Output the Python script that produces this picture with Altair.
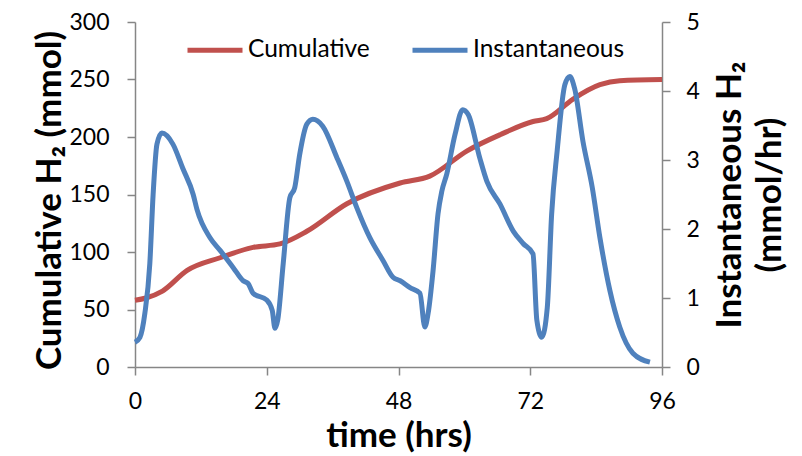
import altair as alt
import pandas as pd

# Cumulative H2 (mmol) vs time (hrs)
cum_x = [0, 2, 5, 9.5, 15.5, 21.5, 26.4, 31.3, 38.6, 48.3, 53.7, 60.5, 66.5, 72.5, 75, 79.8, 84.7, 88.3, 96]
cum_y = [58, 60, 66, 84, 95, 104, 107, 118, 142, 160, 166, 188, 202, 213.5, 216, 233, 245.5, 249, 250]

# Instantaneous H2 (mmol/hr) vs time (hrs)
inst_x = [0, 0.9, 1.8, 2.7, 3.3, 4.0, 4.9, 6.9, 8.7, 10.6, 11.3, 13.7, 15.5, 17.9, 19.7, 20.6, 21.5,
          24.0, 25.0, 25.5, 26.0, 27.0, 28.2, 29.1, 30.0, 31.3, 32.4, 34.2, 36.8, 38.6, 40.4, 42.8,
          45.2, 47.0, 48.3, 50.1, 51.9, 52.8, 53.4, 54.3, 55.2, 55.9, 56.8, 58.3, 59.7, 60.7, 62.8,
          64.1, 66.5, 68.9, 70.7, 72.5, 73.2, 74.1, 75.1, 75.9, 76.9, 78.3, 79.2, 80.1, 81.6, 83.3,
          84.7, 86.5, 88.3, 90.7, 93.8]
inst_y = [0.36, 0.43, 0.78, 1.5, 2.5, 3.23, 3.39, 3.23, 2.88, 2.5, 2.28, 1.87, 1.69, 1.44, 1.25, 1.21, 1.07,
          0.97, 0.82, 0.56, 0.68, 1.5, 2.45, 2.6, 3.08, 3.52, 3.59, 3.49, 3.03, 2.69, 2.31, 1.87,
          1.54, 1.30, 1.25, 1.15, 1.07, 0.58, 0.78, 1.4, 2.22, 2.55, 2.8, 3.37, 3.73, 3.66, 3.03,
          2.69, 2.36, 1.97, 1.79, 1.64, 0.68, 0.43, 0.86, 2.22, 3.13, 4.09, 4.21, 4.03, 3.27, 2.6,
          1.87, 1.11, 0.58, 0.2, 0.07]

series_names = ["Cumulative", "Instantaneous"]
series_colors = ["#C0504D", "#4F81BD"]
x_ticks = [0, 24, 48, 72, 96]
left_ticks = [0, 50, 100, 150, 200, 250, 300]
right_ticks = [0, 1, 2, 3, 4, 5]

FONT = "Lato"
TITLE_SIZE = 35
LABEL_SIZE = 23

df_cum = pd.DataFrame({"t": cum_x, "v": cum_y, "series": series_names[0]})
df_inst = pd.DataFrame({"t": inst_x, "v": inst_y, "series": series_names[1]})

color = alt.Color(
    "series:N",
    scale=alt.Scale(domain=series_names, range=series_colors),
    legend=alt.Legend(
        title=None, orient="none", legendX=50, legendY=-2, direction="horizontal",
        symbolType="stroke", symbolSize=3025, symbolStrokeWidth=5,
        labelFontSize=24.5, labelFont=FONT, labelColor="black", labelOffset=3,
        columnPadding=32, symbolOpacity=1,
    ),
)

x_enc = alt.X(
    "t:Q",
    scale=alt.Scale(domain=[0, 96], nice=False),
    axis=alt.Axis(values=x_ticks, title="time (hrs)", titleFontSize=TITLE_SIZE, titleFontWeight="bold",
                  titlePadding=5, labelPadding=15, labelFlush=False),
)

cum = alt.Chart(df_cum).mark_line(strokeWidth=5, interpolate="monotone").encode(
    x=x_enc,
    y=alt.Y("v:Q", scale=alt.Scale(domain=[0, 300], nice=False),
            axis=alt.Axis(values=left_ticks, orient="left", title="Cumulative H₂ (mmol)",
                          titleFontSize=TITLE_SIZE, titleFontWeight="bold", titlePadding=1,
                          titleY=178, labelPadding=18, labelFlush=False)),
    color=color,
)

inst = alt.Chart(df_inst).mark_line(strokeWidth=5, interpolate="monotone").encode(
    x=x_enc,
    y=alt.Y("v:Q", scale=alt.Scale(domain=[0, 5], nice=False),
            axis=alt.Axis(values=right_ticks, orient="right",
                          title=["Instantaneous H₂", "(mmol/hr)"], titleAngle=270,
                          titleFontSize=TITLE_SIZE, titleFontWeight="bold", titlePadding=8,
                          titleLineHeight=40, labelPadding=16, labelFlush=False)),
    color=color,
)

chart = alt.layer(cum, inst).resolve_scale(y="independent").properties(
    width=527, height=345,
    autosize=alt.AutoSizeParams(type="none"),
    padding={"left": 127, "top": 14, "right": 130, "bottom": 89},
).configure_view(stroke=None).configure_axis(
    grid=False, domainColor="#868686", tickColor="#868686", domainWidth=1.5, tickWidth=1.5,
    tickSize=8, labelFontSize=LABEL_SIZE, labelFont=FONT, titleFont=FONT, labelColor="black",
    titleColor="black",
)

chart.save("out.html", embed_options={"renderer": "svg", "actions": False})
